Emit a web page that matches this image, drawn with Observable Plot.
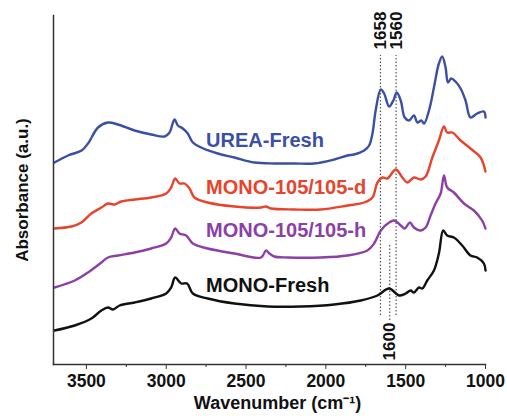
<!DOCTYPE html>
<html>
<head>
<meta charset="utf-8">
<script src="https://cdn.jsdelivr.net/npm/d3@7"></script>
<script src="https://cdn.jsdelivr.net/npm/@observablehq/plot@0.6"></script>
<style>
  body { margin: 0; background: #fff; }
  svg { font-family: "Liberation Sans", Arial, sans-serif; }
</style>
</head>
<body>
<div id="chart"></div>
<script>
// ---- data (wavenumber cm-1, absorbance a.u., offset stacked) ----
const ureaWn  = [3700,3615,3530,3490,3427,3365,3302,3198,3094,3010,2979,2948,2927,2896,2865,2833,2781,2677,2573,2448,2323,2198,2073,1948,1865,1823,1760,1729,1708,1688,1656,1635,1604,1577,1556,1531,1506,1479,1448,1427,1402,1385,1354,1323,1292,1271,1250,1235,1215,1188,1156,1125,1094,1052,1010,1000];
const ureaAbs = [2.02,2.09,2.14,2.21,2.37,2.42,2.40,2.34,2.30,2.28,2.32,2.45,2.39,2.36,2.31,2.22,2.17,2.11,2.07,2.02,2.01,2.01,2.01,2.05,2.09,2.10,2.14,2.19,2.31,2.54,2.75,2.71,2.58,2.64,2.72,2.64,2.47,2.44,2.49,2.42,2.44,2.41,2.54,2.77,3.01,3.08,2.97,2.82,2.86,2.83,2.76,2.64,2.47,2.51,2.53,2.47];

const monoDWn  = [3700,3594,3531,3469,3406,3365,3323,3281,3198,3094,3000,2969,2944,2917,2885,2854,2823,2740,2573,2406,2375,2344,2198,2031,1865,1760,1708,1677,1646,1615,1562,1521,1490,1448,1406,1375,1333,1292,1260,1240,1208,1156,1094,1031,1000];
const monoDAbs = [1.36,1.38,1.42,1.51,1.57,1.61,1.60,1.63,1.65,1.67,1.71,1.77,1.86,1.81,1.81,1.76,1.67,1.62,1.58,1.57,1.58,1.56,1.55,1.55,1.59,1.62,1.67,1.82,1.87,1.86,1.95,1.87,1.82,1.87,1.85,1.88,2.07,2.24,2.38,2.32,2.32,2.24,2.16,2.07,1.93];

const monoHWn  = [3700,3573,3490,3406,3365,3302,3198,3094,3000,2969,2944,2917,2875,2833,2740,2573,2406,2375,2354,2323,2240,2031,1865,1740,1698,1656,1604,1573,1531,1506,1473,1448,1406,1375,1344,1313,1281,1260,1240,1198,1135,1073,1021,1000];
const monoHAbs = [0.77,0.84,0.92,1.02,1.07,1.09,1.12,1.16,1.21,1.27,1.36,1.31,1.29,1.21,1.16,1.11,1.07,1.14,1.11,1.08,1.07,1.07,1.09,1.14,1.21,1.34,1.42,1.44,1.39,1.36,1.42,1.37,1.34,1.37,1.49,1.61,1.71,1.89,1.77,1.72,1.61,1.54,1.44,1.36];

const freshWn  = [3700,3573,3469,3406,3365,3333,3292,3198,3094,3000,2969,2944,2906,2869,2833,2740,2573,2365,2156,1948,1781,1677,1604,1542,1500,1469,1448,1417,1396,1365,1323,1292,1265,1240,1198,1146,1094,1052,1010,1000];
const freshAbs = [0.34,0.39,0.46,0.54,0.57,0.55,0.59,0.62,0.66,0.71,0.77,0.87,0.81,0.81,0.71,0.66,0.61,0.58,0.58,0.60,0.64,0.69,0.76,0.69,0.71,0.74,0.72,0.77,0.76,0.84,0.94,1.11,1.34,1.29,1.27,1.19,1.09,1.07,1.01,0.94];

const seriesNames  = ["UREA-Fresh","MONO-105/105-d","MONO-105/105-h","MONO-Fresh"];
const seriesColors = ["#3b4fa3","#e8432c","#8b40a6","#111111"];
const labelWn  = [2750,2750,2750,2750];
const labelAbs = [2.24,1.77,1.34,0.79];

const peakWn   = [1658,1560,1600];
const peakLo   = [0.49,0.49,0.44];
const peakHi   = [3.09,3.09,1.21];
const peakTxtY = [3.34,3.34,0.23];

const xTicks = [3500,3000,2500,2000,1500,1000];
const xMinor = [3250,2750,2250,1750,1250];

// ---- build table ----
const wnSets  = [ureaWn, monoDWn, monoHWn, freshWn];
const absSets = [ureaAbs, monoDAbs, monoHAbs, freshAbs];
const rows = [];
seriesNames.forEach((s, i) => wnSets[i].forEach((w, j) => rows.push({series: s, wn: w, abs: absSets[i][j]})));
const labels = seriesNames.map((s, i) => ({series: s, wn: labelWn[i], abs: labelAbs[i]}));
const peaks = peakWn.map((w, i) => ({wn: w, lo: peakLo[i], hi: peakHi[i], ty: peakTxtY[i]}));

const chart = Plot.plot({
  width: 507,
  height: 416,
  marginLeft: 53,
  marginRight: 22,
  marginTop: 15,
  marginBottom: 52,
  style: {fontFamily: "'Liberation Sans', Arial, sans-serif", background: "#fff"},
  x: {domain: [3706, 1000], ticks: []},
  y: {domain: [0, 3.49], axis: null},
  color: {domain: seriesNames, range: seriesColors},
  marks: [
    Plot.ruleX(peaks, {x: "wn", y1: "lo", y2: "hi", stroke: "#555", strokeWidth: 1.2, strokeDasharray: "1.5,2"}),
    Plot.line(rows, {x: "wn", y: "abs", z: "series", stroke: "series", strokeWidth: 2.4, curve: "catmull-rom"}),
    Plot.text(labels, {x: "wn", y: "abs", text: "series", fill: "series", textAnchor: "start", fontSize: 20, fontWeight: "bold"}),
    Plot.text(peaks, {x: "wn", y: "ty", text: d => String(d.wn), rotate: -90, fontSize: 17, fontWeight: "bold", fill: "#111"}),
    Plot.frame({anchor: "left", stroke: "#333", strokeWidth: 1.5}),
    Plot.frame({anchor: "bottom", stroke: "#333", strokeWidth: 1.5}),
    Plot.axisX({ticks: xMinor, tickSize: 3, text: null, label: null, stroke: "#333"}),
    Plot.axisX({ticks: xTicks, tickSize: 5, tickPadding: 5, tickFormat: d => String(d), fontSize: 17.5, fontWeight: "bold", fill: "#111", stroke: "#333", label: null}),
    Plot.text(["Wavenumber (cm\u207B\u00B9)"], {frameAnchor: "bottom", dy: 44, dx: 8, fontSize: 18, fontWeight: "bold", fill: "#111"}),
    Plot.text(["Absorbance (a.u.)"], {frameAnchor: "left", textAnchor: "middle", dx: -31, rotate: -90, fontSize: 17, fontWeight: "bold", fill: "#111"})
  ]
});
document.getElementById("chart").appendChild(chart);
</script>
</body>
</html>
